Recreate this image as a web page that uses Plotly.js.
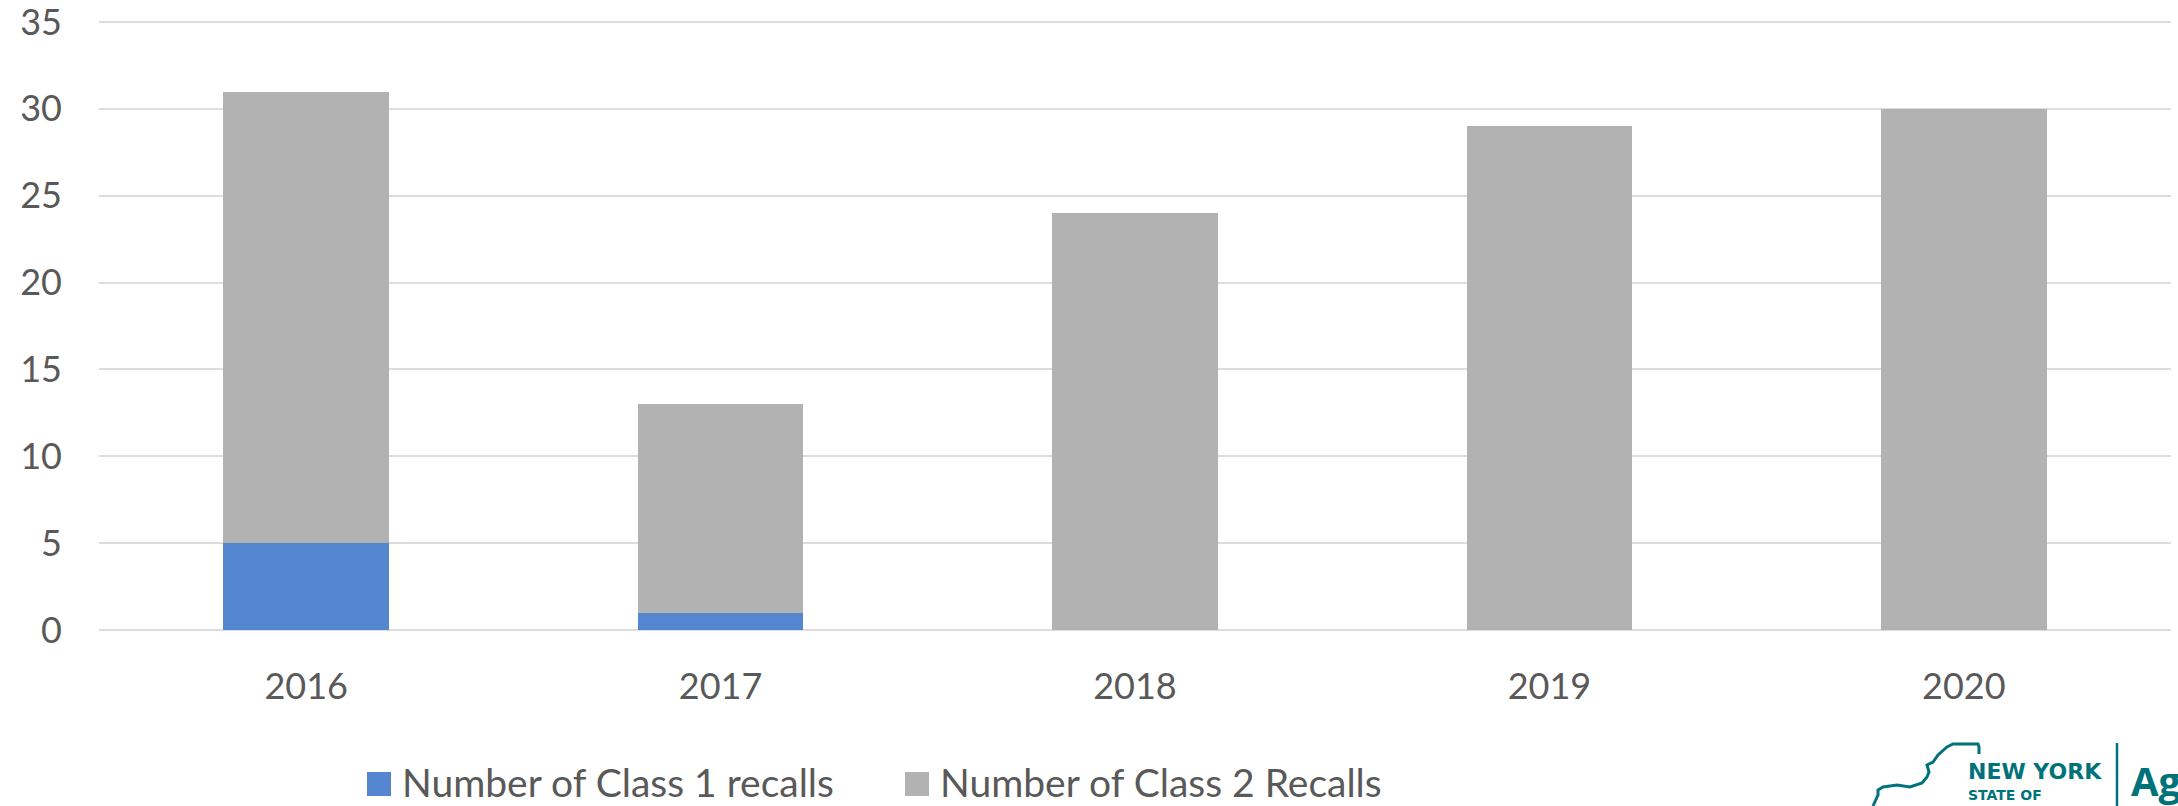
<!DOCTYPE html>
<html>
<head>
<meta charset="utf-8">
<script src="https://cdn.plot.ly/plotly-3.0.1.min.js"></script>
<style>
  html, body { margin: 0; padding: 0; background: #ffffff; }
  #chart { width: 2178px; height: 806px; }
</style>
</head>
<body>
<div id="chart"></div>
<script>
// ---- data ----
var years = ['2016', '2017', '2018', '2019', '2020'];
var class1Recalls = [5, 1, 0, 0, 0];
var class2Recalls = [26, 12, 24, 29, 30];
var seriesNames = ['Number of Class 1 recalls', 'Number of Class 2 Recalls'];
var seriesColors = ['#5586D0', '#B2B2B2'];
var yTicks = [0, 5, 10, 15, 20, 25, 30, 35];

// ---- layout helpers (plot area in pixels) ----
var W = 2178, H = 806;
var L = 99, R = 7, T = 21, B = 176;
var pw = W - L - R, ph = H - T - B;
function px(x) { return (x - L) / pw; }
function py(y) { return (H - B - y) / ph; }

var teal = '#00737A';
var fontFam = 'Lato, "Open Sans", sans-serif';
var textColor = '#595959';

var traces = [
  {
    type: 'bar', x: years, y: class1Recalls, name: seriesNames[0],
    marker: { color: seriesColors[0] }, hoverinfo: 'x+y+name'
  },
  {
    type: 'bar', x: years, y: class2Recalls, name: seriesNames[1],
    marker: { color: seriesColors[1] }, hoverinfo: 'x+y+name'
  }
];

// New York State outline for the logo (pixel points converted to paper coords)
var nyPts = [[1873,806],[1878,795],[1878,790],[1883,787],[1897,785],[1910,787],[1922,783],
  [1927,777],[1929,772],[1927,765],[1933,762],[1938,755],[1947,747],[1953,744],[1978,744],[1979,747],[1979,754]];
var nyPath = nyPts.map(function (p, i) { return (i ? 'L' : 'M') + px(p[0]).toFixed(5) + ',' + py(p[1]).toFixed(5); }).join(' ');

// legend drawn by hand (swatch squares + labels)
var legendItems = [
  { sx: 367, tx: 401 },
  { sx: 905, tx: 939 }
];
var legendShapes = legendItems.map(function (it, i) {
  return { type: 'rect', xref: 'paper', yref: 'paper',
    x0: px(it.sx), x1: px(it.sx + 24), y0: py(796), y1: py(772),
    fillcolor: seriesColors[i], line: { width: 0 } };
});
var legendLabels = legendItems.map(function (it, i) {
  return { xref: 'paper', yref: 'paper', x: px(it.tx), y: py(806), xanchor: 'left', yanchor: 'bottom',
    borderpad: 0,
    text: seriesNames[i], showarrow: false, font: { family: fontFam, size: 39, color: textColor } };
});

var layout = {
  width: W, height: H,
  margin: { l: L, r: R, t: T, b: B, pad: 0 },
  paper_bgcolor: '#ffffff', plot_bgcolor: '#ffffff',
  font: { family: fontFam, color: textColor, size: 36 },
  barmode: 'stack',
  bargap: 0.6,
  showlegend: false,
  xaxis: {
    type: 'category', showgrid: false, showline: false, zeroline: false,
    ticks: '', ticklabelstandoff: 32,
    tickfont: { size: 36, color: textColor, family: fontFam },
    fixedrange: true
  },
  yaxis: {
    range: [0, 35.06], tickvals: yTicks, ticktext: yTicks.map(String),
    showgrid: true, gridcolor: '#DDDDDD', gridwidth: 2,
    zeroline: true, zerolinecolor: '#DDDDDD', zerolinewidth: 2,
    showline: false, ticks: '', ticklabelstandoff: 36,
    ticklabeloverflow: 'allow',
    tickfont: { size: 36, color: textColor, family: fontFam },
    fixedrange: true
  },
  shapes: legendShapes.concat([
    { type: 'path', xref: 'paper', yref: 'paper', path: nyPath,
      line: { color: teal, width: 3 }, fillcolor: 'rgba(0,0,0,0)' },
    { type: 'line', xref: 'paper', yref: 'paper', x0: px(2117), x1: px(2117), y0: py(743), y1: py(806),
      line: { color: teal, width: 2.5 } }
  ]),
  annotations: legendLabels.concat([
    { xref: 'paper', yref: 'paper', x: px(1966), y: py(771), xanchor: 'left', yanchor: 'middle',
      text: '<b>NEW YORK</b>', showarrow: false, font: { family: '"DejaVu Sans", sans-serif', size: 22, color: teal } },
    { xref: 'paper', yref: 'paper', x: px(1966), y: py(795), xanchor: 'left', yanchor: 'middle',
      text: '<b>STATE OF</b>', showarrow: false, font: { family: '"DejaVu Sans", sans-serif', size: 14, color: teal } },
    { xref: 'paper', yref: 'paper', x: px(2129), y: py(780), xanchor: 'left', yanchor: 'middle',
      text: '<b>Ag</b>', showarrow: false, font: { family: '"Open Sans", sans-serif', size: 40, color: teal } }
  ])
};

Plotly.newPlot('chart', traces, layout, { staticPlot: true, displayModeBar: false });
</script>
</body>
</html>
